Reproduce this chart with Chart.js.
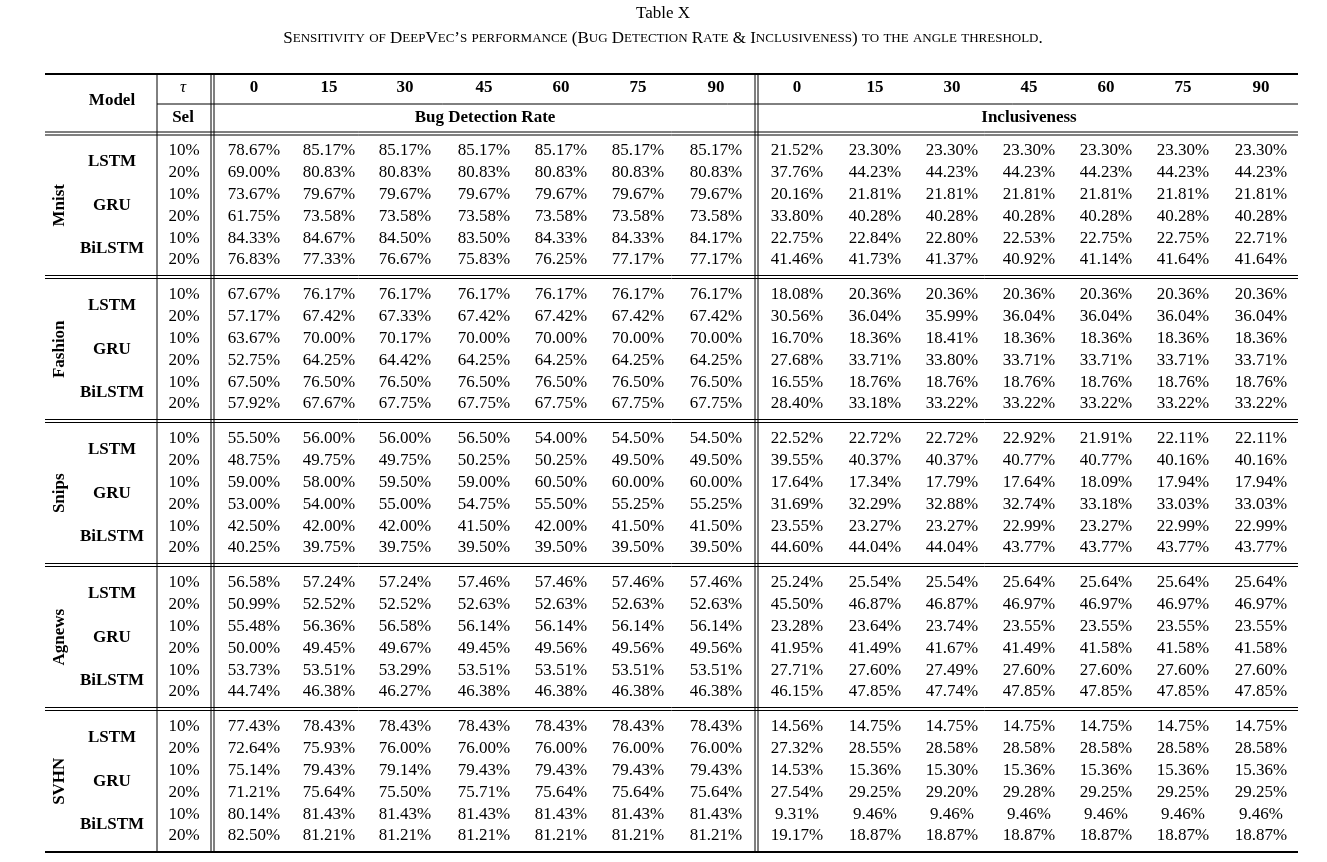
<!DOCTYPE html>
<html>
<head>
<meta charset="utf-8">
<script src="https://cdn.jsdelivr.net/npm/chart.js@4.4.0/dist/chart.umd.min.js"></script>
<style>
  html, body { margin: 0; padding: 0; background: #fff; }
  #wrap { width: 1327px; height: 862px; position: relative; }
</style>
</head>
<body>
<div id="wrap"><canvas id="tableChart" width="1327" height="862"></canvas></div>
<script>
// Data
const datasetsNames = ['Mnist', 'Fashion', 'Snips', 'Agnews', 'SVHN'];
const models = ['LSTM', 'GRU', 'BiLSTM'];
const selections = ['10%', '20%'];
const thresholds = ['0', '15', '30', '45', '60', '75', '90'];

// Bug Detection Rate, one row per (dataset, model, sel)
const bdr = [
  [78.67, 85.17, 85.17, 85.17, 85.17, 85.17, 85.17],
  [69.00, 80.83, 80.83, 80.83, 80.83, 80.83, 80.83],
  [73.67, 79.67, 79.67, 79.67, 79.67, 79.67, 79.67],
  [61.75, 73.58, 73.58, 73.58, 73.58, 73.58, 73.58],
  [84.33, 84.67, 84.50, 83.50, 84.33, 84.33, 84.17],
  [76.83, 77.33, 76.67, 75.83, 76.25, 77.17, 77.17],

  [67.67, 76.17, 76.17, 76.17, 76.17, 76.17, 76.17],
  [57.17, 67.42, 67.33, 67.42, 67.42, 67.42, 67.42],
  [63.67, 70.00, 70.17, 70.00, 70.00, 70.00, 70.00],
  [52.75, 64.25, 64.42, 64.25, 64.25, 64.25, 64.25],
  [67.50, 76.50, 76.50, 76.50, 76.50, 76.50, 76.50],
  [57.92, 67.67, 67.75, 67.75, 67.75, 67.75, 67.75],

  [55.50, 56.00, 56.00, 56.50, 54.00, 54.50, 54.50],
  [48.75, 49.75, 49.75, 50.25, 50.25, 49.50, 49.50],
  [59.00, 58.00, 59.50, 59.00, 60.50, 60.00, 60.00],
  [53.00, 54.00, 55.00, 54.75, 55.50, 55.25, 55.25],
  [42.50, 42.00, 42.00, 41.50, 42.00, 41.50, 41.50],
  [40.25, 39.75, 39.75, 39.50, 39.50, 39.50, 39.50],

  [56.58, 57.24, 57.24, 57.46, 57.46, 57.46, 57.46],
  [50.99, 52.52, 52.52, 52.63, 52.63, 52.63, 52.63],
  [55.48, 56.36, 56.58, 56.14, 56.14, 56.14, 56.14],
  [50.00, 49.45, 49.67, 49.45, 49.56, 49.56, 49.56],
  [53.73, 53.51, 53.29, 53.51, 53.51, 53.51, 53.51],
  [44.74, 46.38, 46.27, 46.38, 46.38, 46.38, 46.38],

  [77.43, 78.43, 78.43, 78.43, 78.43, 78.43, 78.43],
  [72.64, 75.93, 76.00, 76.00, 76.00, 76.00, 76.00],
  [75.14, 79.43, 79.14, 79.43, 79.43, 79.43, 79.43],
  [71.21, 75.64, 75.50, 75.71, 75.64, 75.64, 75.64],
  [80.14, 81.43, 81.43, 81.43, 81.43, 81.43, 81.43],
  [82.50, 81.21, 81.21, 81.21, 81.21, 81.21, 81.21]
];

// Inclusiveness
const incl = [
  [21.52, 23.30, 23.30, 23.30, 23.30, 23.30, 23.30],
  [37.76, 44.23, 44.23, 44.23, 44.23, 44.23, 44.23],
  [20.16, 21.81, 21.81, 21.81, 21.81, 21.81, 21.81],
  [33.80, 40.28, 40.28, 40.28, 40.28, 40.28, 40.28],
  [22.75, 22.84, 22.80, 22.53, 22.75, 22.75, 22.71],
  [41.46, 41.73, 41.37, 40.92, 41.14, 41.64, 41.64],

  [18.08, 20.36, 20.36, 20.36, 20.36, 20.36, 20.36],
  [30.56, 36.04, 35.99, 36.04, 36.04, 36.04, 36.04],
  [16.70, 18.36, 18.41, 18.36, 18.36, 18.36, 18.36],
  [27.68, 33.71, 33.80, 33.71, 33.71, 33.71, 33.71],
  [16.55, 18.76, 18.76, 18.76, 18.76, 18.76, 18.76],
  [28.40, 33.18, 33.22, 33.22, 33.22, 33.22, 33.22],

  [22.52, 22.72, 22.72, 22.92, 21.91, 22.11, 22.11],
  [39.55, 40.37, 40.37, 40.77, 40.77, 40.16, 40.16],
  [17.64, 17.34, 17.79, 17.64, 18.09, 17.94, 17.94],
  [31.69, 32.29, 32.88, 32.74, 33.18, 33.03, 33.03],
  [23.55, 23.27, 23.27, 22.99, 23.27, 22.99, 22.99],
  [44.60, 44.04, 44.04, 43.77, 43.77, 43.77, 43.77],

  [25.24, 25.54, 25.54, 25.64, 25.64, 25.64, 25.64],
  [45.50, 46.87, 46.87, 46.97, 46.97, 46.97, 46.97],
  [23.28, 23.64, 23.74, 23.55, 23.55, 23.55, 23.55],
  [41.95, 41.49, 41.67, 41.49, 41.58, 41.58, 41.58],
  [27.71, 27.60, 27.49, 27.60, 27.60, 27.60, 27.60],
  [46.15, 47.85, 47.74, 47.85, 47.85, 47.85, 47.85],

  [14.56, 14.75, 14.75, 14.75, 14.75, 14.75, 14.75],
  [27.32, 28.55, 28.58, 28.58, 28.58, 28.58, 28.58],
  [14.53, 15.36, 15.30, 15.36, 15.36, 15.36, 15.36],
  [27.54, 29.25, 29.20, 29.28, 29.25, 29.25, 29.25],
  [9.31, 9.46, 9.46, 9.46, 9.46, 9.46, 9.46],
  [19.17, 18.87, 18.87, 18.87, 18.87, 18.87, 18.87]
];

// Layout (page units, mapped through the chart scales)
const bdrX = [254, 329, 405, 484, 561, 638, 716];
const inclX = [797, 875, 952, 1029, 1106, 1183, 1261];
const firstRowY = 150.5, rowStep = 21.9, groupStep = 144;
const SERIF = '"Liberation Serif", "DejaVu Serif", serif';

function smallCaps(ctx, text, cx, y, big, small) {
  const parts = [];
  for (const ch of text) {
    const low = ch !== ch.toUpperCase();
    parts.push({ t: ch.toUpperCase(), s: low ? small : big });
  }
  let w = 0;
  parts.forEach(p => { ctx.font = p.s + 'px ' + SERIF; w += ctx.measureText(p.t).width; });
  let x = cx - w / 2;
  ctx.textAlign = 'left';
  parts.forEach(p => { ctx.font = p.s + 'px ' + SERIF; ctx.fillText(p.t, x, y); x += ctx.measureText(p.t).width; });
}

const tablePlugin = {
  id: 'tablePlugin',
  afterDraw(chart) {
    const ctx = chart.ctx;
    const X = v => chart.scales.x.getPixelForValue(v);
    const Y = v => chart.scales.y.getPixelForValue(v);
    ctx.save();
    ctx.fillStyle = '#000';
    ctx.strokeStyle = '#000';
    ctx.textBaseline = 'middle';

    const hline = (y, x0, x1, w) => { ctx.lineWidth = w; ctx.beginPath(); ctx.moveTo(X(x0), Y(y)); ctx.lineTo(X(x1), Y(y)); ctx.stroke(); };
    const vline = (x, y0, y1) => { ctx.lineWidth = 1; ctx.beginPath(); ctx.moveTo(X(x), Y(y0)); ctx.lineTo(X(x), Y(y1)); ctx.stroke(); };

    // Title
    ctx.textAlign = 'center';
    ctx.font = '17px ' + SERIF;
    ctx.fillText('Table X', X(663), Y(14));
    smallCaps(ctx, 'Sensitivity of DeepVec\u2019s performance (Bug Detection Rate & Inclusiveness) to the angle threshold.', X(663), Y(39), 17, 13);

    // Rules
    hline(74, 45, 1298, 2);
    hline(104, 157, 1298, 1);
    hline(132, 45, 1298, 1); hline(135, 45, 1298, 1);
    for (let g = 1; g < datasetsNames.length; g++) {
      const y = firstRowY + g * groupStep - 19;
      hline(y, 45, 1298, 1); hline(y + 3, 45, 1298, 1);
    }
    hline(852, 45, 1298, 2);
    vline(157, 75, 851);
    [211, 214, 755, 758].forEach(x => vline(x, 75, 851));

    // Header
    ctx.textAlign = 'center';
    ctx.font = 'bold 17px ' + SERIF;
    ctx.fillText('Model', X(112), Y(101));
    ctx.fillText('Sel', X(183), Y(118));
    thresholds.forEach((t, i) => { ctx.fillText(t, X(bdrX[i]), Y(88)); ctx.fillText(t, X(inclX[i]), Y(88)); });
    ctx.fillText('Bug Detection Rate', X(485), Y(118));
    ctx.fillText('Inclusiveness', X(1029), Y(118));
    ctx.font = 'italic 17px ' + SERIF;
    ctx.fillText('\u03c4', X(183), Y(88));

    // Body
    let r = 0;
    datasetsNames.forEach((ds, g) => {
      const gy = firstRowY + g * groupStep;
      ctx.save();
      ctx.font = 'bold 17px ' + SERIF;
      ctx.translate(X(60), Y(gy + 2.5 * rowStep));
      ctx.rotate(-Math.PI / 2);
      ctx.textAlign = 'center';
      ctx.fillText(ds, 0, 0);
      ctx.restore();
      models.forEach((m, mi) => {
        ctx.font = 'bold 17px ' + SERIF;
        ctx.textAlign = 'center';
        ctx.fillText(m, X(112), Y(gy + (mi * 2 + 0.5) * rowStep));
        selections.forEach((s, si) => {
          const y = Y(gy + (mi * 2 + si) * rowStep);
          ctx.font = '17px ' + SERIF;
          ctx.textAlign = 'center';
          ctx.fillText(s, X(184), y);
          bdr[r].forEach((v, i) => ctx.fillText(v.toFixed(2) + '%', X(bdrX[i]), y));
          incl[r].forEach((v, i) => ctx.fillText(v.toFixed(2) + '%', X(inclX[i]), y));
          r++;
        });
      });
    });
    ctx.restore();
  }
};

new Chart(document.getElementById('tableChart').getContext('2d'), {
  type: 'scatter',
  data: { datasets: [{ data: [], pointRadius: 0 }] },
  options: {
    responsive: false,
    animation: false,
    layout: { padding: 0 },
    plugins: { legend: { display: false }, tooltip: { enabled: false } },
    scales: {
      x: { type: 'linear', min: 0, max: 1327, display: false },
      y: { type: 'linear', min: 0, max: 862, reverse: true, display: false }
    }
  },
  plugins: [tablePlugin]
});
</script>
</body>
</html>
